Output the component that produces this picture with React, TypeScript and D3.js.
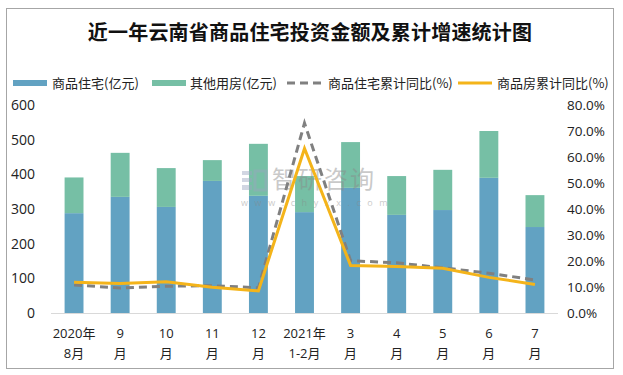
import React from "react";
import * as d3 from "d3";

const categories: string[][] = [
  ["2020年", "8月"], ["9", "月"], ["10", "月"], ["11", "月"], ["12", "月"],
  ["2021年", "1-2月"], ["3", "月"], ["4", "月"], ["5", "月"], ["6", "月"], ["7", "月"],
];
const residential: number[] = [288, 335, 306, 381, 338, 291, 361, 283, 297, 390, 248];
const otherHousing: number[] = [103, 127, 112, 60, 150, 104, 132, 112, 116, 135, 92];
const residentialYoY: number[] = [10.8, 9.6, 10.3, 10.5, 9.7, 73.0, 20.1, 19.3, 17.4, 15.3, 12.7];
const housingYoY: number[] = [11.8, 11.3, 12.0, 9.9, 8.5, 63.3, 18.3, 17.9, 17.2, 13.7, 11.0];
const leftTicks: number[] = [0, 100, 200, 300, 400, 500, 600];
const rightTicks: number[] = [0, 10, 20, 30, 40, 50, 60, 70, 80];
const legendLabels: string[] = ["商品住宅(亿元)", "其他用房(亿元)", "商品住宅累计同比(%)", "商品房累计同比(%)"];
const title = "近一年云南省商品住宅投资金额及累计增速统计图";

const BLUE = "#62A2C2";
const GREEN = "#76BFA5";
const GRAY = "#808080";
const ORANGE = "#F4B41A";

export default function App() {
  const x0 = 51, x1 = 558, yTop = 105, yBot = 313;
  const idx = categories.map((_, i) => String(i));
  const x = d3.scaleBand<string>().domain(idx).range([x0, x1]).paddingInner(0.59).paddingOuter(0.295);
  const yL = d3.scaleLinear().domain([0, 600]).range([yBot, yTop]);
  const yR = d3.scaleLinear().domain([0, 80]).range([yBot, yTop]);
  const cx = (i: number) => (x(String(i)) as number) + x.bandwidth() / 2;
  const line = d3.line<number>().x((_, i) => cx(i)).y((d) => yR(d));
  const font = "'Open Sans', 'Noto Sans CJK SC', sans-serif";
  const cjk = "'Noto Sans CJK SC', sans-serif";

  const legendItems = [
    { x: 13, tx: 52, kind: "bar", color: BLUE },
    { x: 152, tx: 190, kind: "bar", color: GREEN },
    { x: 287, tx: 328, kind: "dash", color: GRAY },
    { x: 458, tx: 497, kind: "line", color: ORANGE },
  ];

  return (
    <svg width={623} height={375} style={{ position: "absolute", left: 0, top: 0, background: "#fff" }}>
      <rect x={6.5} y={8.5} width={607} height={360} fill="#fff" stroke="#A6A6A6" strokeWidth={1} />
      <text x={310} y={40} textAnchor="middle" fontFamily={cjk} fontWeight="bold" fontSize={20} letterSpacing={0.2} fill="#111">{title}</text>

      {legendItems.map((it, i) => (
        <g key={i}>
          {it.kind === "bar" && <rect x={it.x} y={80} width={34} height={6} fill={it.color} />}
          {it.kind === "dash" && <line x1={it.x} x2={it.x + 34} y1={83} y2={83} stroke={it.color} strokeWidth={3} strokeDasharray="8,5" />}
          {it.kind === "line" && <line x1={it.x} x2={it.x + 34} y1={83} y2={83} stroke={it.color} strokeWidth={3} />}
          <text x={it.tx} y={88} fontFamily={cjk} fontSize={13} fill="#222">{legendLabels[i]}</text>
        </g>
      ))}

      {leftTicks.map((t) => (
        <text key={"l" + t} x={35} y={yL(t) + 5} textAnchor="end" fontFamily={font} fontSize={14} fill="#222">{t}</text>
      ))}
      {rightTicks.map((t) => (
        <text key={"r" + t} x={567} y={yR(t) + 5} fontFamily={font} fontSize={13.5} fill="#222">{t.toFixed(1) + "%"}</text>
      ))}

      {residential.map((v, i) => (
        <g key={"b" + i}>
          <rect x={x(String(i))} y={yL(v)} width={x.bandwidth()} height={yL(0) - yL(v)} fill={BLUE} />
          <rect x={x(String(i))} y={yL(v + otherHousing[i])} width={x.bandwidth()} height={yL(v) - yL(v + otherHousing[i])} fill={GREEN} />
        </g>
      ))}
      <line x1={x0} x2={x1} y1={yBot + 0.5} y2={yBot + 0.5} stroke="#D9D9D9" strokeWidth={1} />

      <g opacity={0.45}>
        <rect x={242} y={171} width={10} height={4} fill="#9AA6C0" />
        <rect x={242} y={178} width={10} height={4} fill="#9AA6C0" />
        <rect x={242} y={185} width={10} height={5} fill="#9AA6C0" />
        <rect x={255} y={171} width={11} height={19} fill="none" stroke="#9AA6C0" strokeWidth={3} />
        <text x={272} y={188} fontFamily={cjk} fontSize={24} fill="#8a8a8a" letterSpacing={2}>智研咨询</text>
        <text x={241} y={206} fontFamily={font} fontSize={9} fill="#8a8a8a" letterSpacing={6.6}>www.chyxx.com</text>
      </g>

      <path d={line(residentialYoY) || ""} fill="none" stroke={GRAY} strokeWidth={3} strokeDasharray="8,5" />
      <path d={line(housingYoY) || ""} fill="none" stroke={ORANGE} strokeWidth={3} />

      {categories.map((c, i) => (
        <g key={"c" + i}>
          <text x={cx(i)} y={338} textAnchor="middle" fontFamily={font} fontSize={13} fill="#222">{c[0]}</text>
          <text x={cx(i)} y={358} textAnchor="middle" fontFamily={font} fontSize={13} fill="#222">{c[1]}</text>
        </g>
      ))}
    </svg>
  );
}
